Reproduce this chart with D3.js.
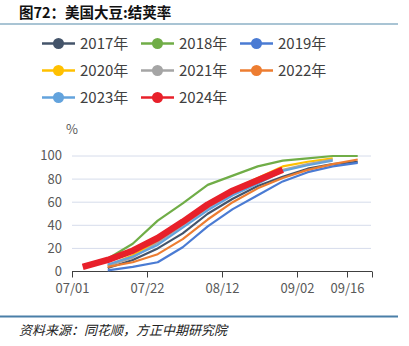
<!DOCTYPE html>
<html><head><meta charset="utf-8">
<script src="https://cdn.jsdelivr.net/npm/d3@7"></script>
<style>
body{margin:0;background:#fff;}
svg{display:block;font-family:"Noto Sans CJK SC","Noto Sans",sans-serif;}
</style></head>
<body>
<svg id="c" width="409" height="346"></svg>
<script>
// days after 07/01 for weekly points
const days = [3, 10, 17, 24, 31, 38, 45, 52, 59, 66, 73, 80];
const seriesNames = ["2017年","2018年","2019年","2020年","2021年","2022年","2023年","2024年"];
const colors = ["#44546A","#70AD47","#4A7BD3","#FFC000","#A5A5A5","#ED7D31","#63A3DD","#E8202A"];
const v2017 = [null, 3, 10, 20, 33, 50, 63, 74, 82, 89, 93, 95];
const v2018 = [null, 11, 24, 44, 59, 75, 83, 91, 96, 98, 100, 100];
const v2019 = [null, 1, 4, 8, 21, 39, 54, 66, 78, 86, 91, 94];
const v2020 = [null, 5, 14, 26, 42, 58, 71, 81, 91, 95, 98, null];
const v2021 = [null, 5, 12, 25, 40, 55, 68, 78, 88, 93, 97, null];
const v2022 = [null, 4, 8, 15, 28, 45, 60, 72, 81, 88, 93, 97];
const v2023 = [null, 6, 13, 23, 38, 53, 66, 76, 87, 92, 96, null];
const v2024 = [4, 10, 18, 29, 43, 58, 70, 79, 88, null, null, null];
const values = [v2017, v2018, v2019, v2020, v2021, v2022, v2023, v2024];
const yTicks = [0, 20, 40, 60, 80, 100];
const xTickDays = [0, 21, 42, 63, 77, 84];
const xTickLabels = ["07/01","07/22","08/12","09/02","09/16",""];
const title = "图72：美国大豆:结荚率";
const source = "资料来源：同花顺，方正中期研究院";

const svg = d3.select("#c");
const x = d3.scaleLinear().domain([0, 84]).range([72, 372]);
const y = d3.scaleLinear().domain([0, 100]).range([271.5, 156]);

// title
svg.append("text").attr("x", 19).attr("y", 18).attr("font-size", 14.5).attr("font-weight", "bold")
  .attr("fill", "#111").text(title);
svg.append("line").attr("x1", 0).attr("x2", 398).attr("y1", 24).attr("y2", 24)
  .attr("stroke", "#8DB0C6").attr("stroke-width", 1.5);

// legend
const cols = [42, 141, 240];
const rows = [43.5, 70.5, 97.5];
seriesNames.forEach((n, i) => {
  const cx = cols[i % 3], cy = rows[Math.floor(i / 3)];
  const g = svg.append("g");
  g.append("line").attr("x1", cx).attr("x2", cx + 33).attr("y1", cy).attr("y2", cy)
    .attr("stroke", colors[i]).attr("stroke-width", 2.5);
  g.append("circle").attr("cx", cx + 16.5).attr("cy", cy).attr("r", 5.5).attr("fill", colors[i]);
  g.append("text").attr("x", cx + 38).attr("y", cy).attr("dy", "0.36em").attr("font-size", 15)
    .attr("fill", "#404040").text(n);
});

// gridlines
svg.append("g").selectAll("line").data(yTicks.filter(d => d > 0)).join("line")
  .attr("x1", 72).attr("x2", 371).attr("y1", d => y(d)).attr("y2", d => y(d))
  .attr("stroke", "#D6DCEB").attr("stroke-width", 1);

// y labels
svg.append("g").selectAll("text").data(yTicks).join("text")
  .attr("x", 62).attr("y", d => y(d)).attr("dy", "0.34em").attr("text-anchor", "end")
  .attr("font-size", 13).attr("fill", "#595959").text(d => d);
svg.append("text").attr("x", 66).attr("y", 129).attr("dy", "0.36em").attr("font-size", 13)
  .attr("fill", "#595959").text("%");

// x axis
const xAxis = d3.axisBottom(x).tickValues(xTickDays).tickSize(6)
  .tickFormat((d, i) => xTickLabels[i]);
const ax = svg.append("g").attr("transform", "translate(0,271.5)").call(xAxis);
ax.select(".domain").attr("stroke", "#404040").attr("d", "M72,0H372");
ax.selectAll(".tick line").attr("stroke", "#404040");
ax.selectAll(".tick text").attr("font-size", 13).attr("fill", "#595959")
  .attr("font-family", "'Noto Sans CJK SC','Noto Sans',sans-serif").attr("y", 9).attr("dy", "0.95em");

// lines
const line = d3.line().defined(d => d[1] != null).x(d => x(d[0])).y(d => y(d[1]));
values.forEach((vals, i) => {
  const pts = vals.map((v, j) => [days[j], v]);
  svg.append("path").attr("d", line(pts)).attr("fill", "none")
    .attr("stroke", colors[i]).attr("stroke-width", i === 7 ? 6.5 : 2.2)
    .attr("stroke-linejoin", "round");
});

// footer
svg.append("line").attr("x1", 0).attr("x2", 398).attr("y1", 316.5).attr("y2", 316.5)
  .attr("stroke", "#4A7FA8").attr("stroke-width", 2);
svg.append("text").attr("x", 19).attr("y", 330).attr("dy", "0.36em").attr("font-size", 13)
  .attr("font-style", "italic").attr("fill", "#222").text(source);
</script>
</body></html>
